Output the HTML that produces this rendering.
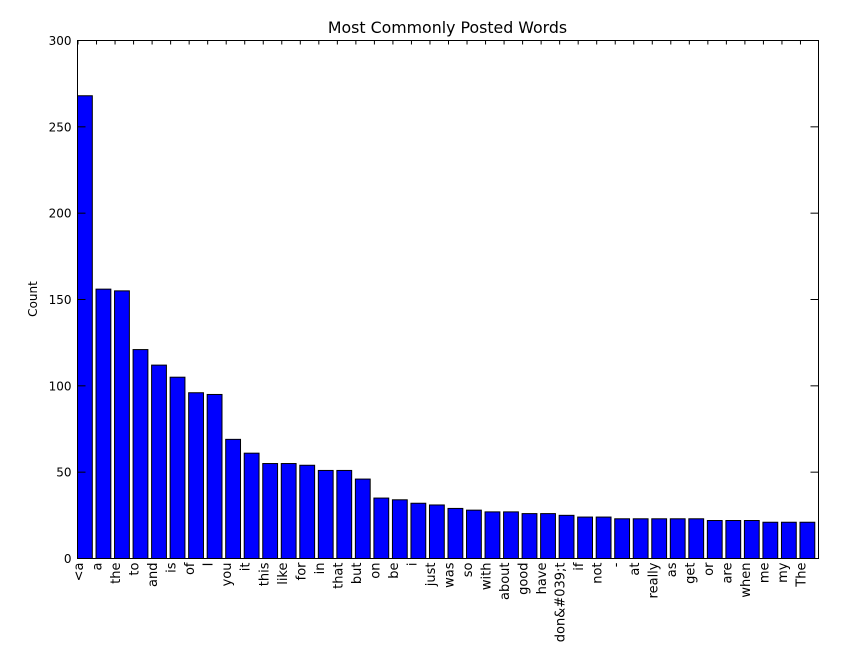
<!DOCTYPE html>
<html><head><meta charset="utf-8"><style>body{margin:0;background:#fff}svg{display:block;font-family:"DejaVu Sans","Liberation Sans",sans-serif}</style></head>
<body>
<svg id="chart" width="843" height="655" xmlns="http://www.w3.org/2000/svg">
<rect width="843" height="655" fill="#fff"/>
<text x="447.5" y="33" font-size="15.8" text-anchor="middle">Most Commonly Posted Words</text>
<text transform="translate(37,299) rotate(-90)" font-size="12" text-anchor="middle">Count</text>
<g id="bars"></g><g id="ticks"></g>
<rect x="77.5" y="40.5" width="741" height="518" fill="none" stroke="#000" stroke-width="1"/>
</svg>
<script>
const categories = ["<a","a","the","to","and","is","of","I","you","it","this","like","for","in","that","but","on","be","i","just","was","so","with","about","good","have","don&#039;t","if","not","-","at","really","as","get","or","are","when","me","my","The"];
const counts = [268,156,155,121,112,105,96,95,69,61,55,55,54,51,51,46,35,34,32,31,29,28,27,27,26,26,25,24,24,23,23,23,23,23,22,22,22,21,21,21];
const yTicks = [0,50,100,150,200,250,300];
const NS="http://www.w3.org/2000/svg";
const L=77.5,R=818.5,T=40.5,B=558.5;
const x=i=>L+(R-L)*i/categories.length;
const y=v=>B-(B-T)*v/300;
const bars=document.getElementById('bars'),ticks=document.getElementById('ticks');
function mk(tag,attrs,parent){const e=document.createElementNS(NS,tag);for(const k in attrs)e.setAttribute(k,attrs[k]);parent.appendChild(e);return e;}
categories.forEach((c,i)=>{
  const r=mk('rect',{x:x(i),y:y(counts[i]),width:x(i+0.8)-x(i),height:B-y(counts[i]),fill:'#0000ff',stroke:'#000','stroke-width':1},bars);
  
  
  const cx=x(i)+0.5;
  mk('line',{x1:cx,x2:cx,y1:T,y2:T+4,stroke:'#000'},ticks);
  const t=mk('text',{transform:`translate(${cx+5},${B+4}) rotate(-90)`,'font-size':13,'text-anchor':'end'},ticks);
  t.textContent=c;
  
  
});
yTicks.forEach(v=>{
  const yy=y(v);
  mk('line',{x1:L,x2:L+8,y1:yy,y2:yy,stroke:'#000'},ticks);
  mk('line',{x1:R,x2:R-8,y1:yy,y2:yy,stroke:'#000'},ticks);
  const t=mk('text',{x:L-6,y:yy+4.5,'font-size':12,'text-anchor':'end'},ticks);
  t.textContent=v;
  
  
});
</script>
</body></html>
